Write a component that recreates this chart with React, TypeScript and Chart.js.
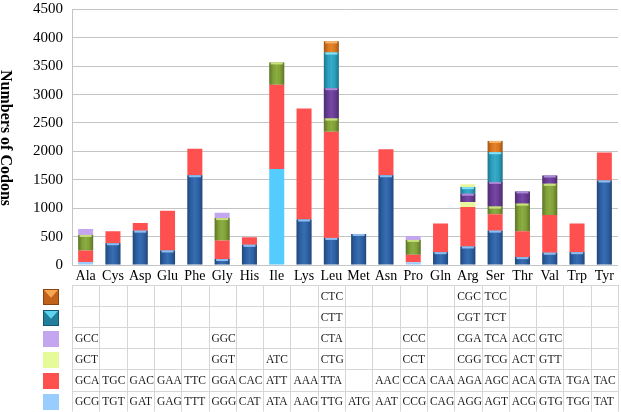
import React, { useEffect, useRef } from "react";
import { Chart, registerables } from "chart.js";

Chart.register(...registerables);

// ---------------- data ----------------
const categories = ["Ala", "Cys", "Asp", "Glu", "Phe", "Gly", "His", "Ile", "Lys", "Leu", "Met", "Asn", "Pro", "Gln", "Arg", "Ser", "Thr", "Val", "Trp", "Tyr"];

// stack order: series 1 at the bottom ... series 6 at the top
const counts1 = [52, 383, 605, 256, 1580, 105, 355, 1690, 801, 477, 547, 1580, 47, 226, 326, 605, 139, 216, 226, 1488];
const counts2 = [204, 209, 134, 697, 465, 325, 133, 1481, 1952, 1870, 0, 458, 134, 506, 697, 290, 453, 662, 506, 493];
const counts3 = [274, 0, 0, 0, 0, 396, 0, 395, 0, 231, 0, 0, 261, 0, 87, 133, 488, 551, 0, 0];
const counts4 = [104, 0, 0, 0, 0, 92, 0, 0, 0, 535, 0, 0, 70, 0, 144, 435, 216, 146, 0, 0];
const counts5 = [0, 0, 0, 0, 0, 0, 0, 0, 0, 627, 0, 0, 0, 0, 117, 523, 0, 0, 0, 0];
const counts6 = [0, 0, 0, 0, 0, 0, 0, 0, 0, 197, 0, 0, 0, 0, 49, 199, 0, 0, 0, 0];

const codons1 = ["GCG", "TGT", "GAT", "GAG", "TTT", "GGG", "CAT", "ATA", "AAG", "TTG", "ATG", "AAT", "CCG", "CAG", "AGG", "AGT", "ACG", "GTG", "TGG", "TAT"];
const codons2 = ["GCA", "TGC", "GAC", "GAA", "TTC", "GGA", "CAC", "ATT", "AAA", "TTA", "", "AAC", "CCA", "CAA", "AGA", "AGC", "ACA", "GTA", "TGA", "TAC"];
const codons3 = ["GCT", "", "", "", "", "GGT", "", "ATC", "", "CTG", "", "", "CCT", "", "CGG", "TCG", "ACT", "GTT", "", ""];
const codons4 = ["GCC", "", "", "", "", "GGC", "", "", "", "CTA", "", "", "CCC", "", "CGA", "TCA", "ACC", "GTC", "", ""];
const codons5 = ["", "", "", "", "", "", "", "", "", "CTT", "", "", "", "", "CGT", "TCT", "", "", "", ""];
const codons6 = ["", "", "", "", "", "", "", "", "", "CTC", "", "", "", "", "CGC", "TCC", "", "", "", ""];

const yAxisTitle = "Numbers of Codons";

// ---------------- styles ----------------
const SERIF = "'Liberation Serif', 'Times New Roman', serif";
const PAL: Record<string, string> = {
  blue: "#2f66ad",
  ltblue: "#99ccff",
  cyan: "#55ccff",
  red: "#ff5050",
  green: "#86a83a",
  yellow: "#e8f79c",
  lav: "#c4a6f0",
  purple: "#6e3f9e",
  teal: "#2ea6c6",
  orange: "#e47c22",
};
const HIGHLIGHT: Record<string, string> = {
  blue: "#8fbdf0",
  green: "#c9e07e",
  purple: "#a98bd6",
  teal: "#86e3f7",
  orange: "#f7b86e",
};
const SHADED = new Set(["blue", "green", "purple", "teal", "orange"]);

const seriesDefault = ["blue", "red", "green", "purple", "teal", "orange"];
const seriesOverride: Record<string, string>[] = [
  { Ala: "ltblue", Ile: "cyan", Pro: "ltblue" },
  {},
  { Arg: "yellow" },
  { Ala: "lav", Gly: "lav", Pro: "lav" },
  {},
  { Arg: "yellow" },
];
const colorKey = (s: number, j: number) => seriesOverride[s][categories[j]] || seriesDefault[s];

const allCounts = [counts1, counts2, counts3, counts4, counts5, counts6];
// table rows, top to bottom
const tableRows = [codons6, codons5, codons4, codons3, codons2, codons1];
const keyColors = ["orange", "teal", "lav", "yellowgreen", "red", "ltblue"];

const barShadePlugin = {
  id: "barShade",
  afterDatasetsDraw(chart: any) {
    const ctx = chart.ctx;
    ctx.save();
    chart.data.datasets.forEach((ds: any, s: number) => {
      const meta = chart.getDatasetMeta(s);
      meta.data.forEach((el: any, j: number) => {
        const v = ds.data[j];
        if (!v) return;
        const key = colorKey(s, j);
        if (!SHADED.has(key)) return;
        const { x, y, base, width } = el.getProps(["x", "y", "base", "width"], true);
        const left = x - width / 2;
        const h = base - y;
        const g = ctx.createLinearGradient(left, 0, left + width, 0);
        g.addColorStop(0, "rgba(0,0,0,0.30)");
        g.addColorStop(0.3, "rgba(0,0,0,0.02)");
        g.addColorStop(0.5, "rgba(255,255,255,0.06)");
        g.addColorStop(0.7, "rgba(0,0,0,0.02)");
        g.addColorStop(1, "rgba(0,0,0,0.30)");
        ctx.fillStyle = g;
        ctx.fillRect(left, y, width, h);
        if (h > 3) {
          ctx.fillStyle = HIGHLIGHT[key];
          ctx.fillRect(left + 1.5, y, width - 3, 2);
        }
      });
    });
    ctx.restore();
  },
};

const tablePlugin = {
  id: "codonTable",
  afterDraw(chart: any) {
    const ctx = chart.ctx;
    const xs = chart.scales.x;
    const left = chart.chartArea.left;
    const right = chart.chartArea.right;
    const top = 285;
    const rowH = 21.1;
    const n = categories.length;
    const colW = (right - left) / n;
    ctx.save();
    ctx.strokeStyle = "#d6d6d6";
    ctx.lineWidth = 1;
    ctx.beginPath();
    for (let r = 0; r <= tableRows.length; r++) {
      const y = Math.round(top + r * rowH) + 0.5;
      ctx.moveTo(left, y);
      ctx.lineTo(right, y);
    }
    for (let j = 0; j <= n; j++) {
      const x = Math.round(left + j * colW) + 0.5;
      ctx.moveTo(x, top);
      ctx.lineTo(x, top + tableRows.length * rowH);
    }
    ctx.stroke();

    ctx.fillStyle = "#1a1a1a";
    ctx.font = `11.5px ${SERIF}`;
    ctx.textAlign = "left";
    ctx.textBaseline = "middle";
    tableRows.forEach((row, r) => {
      row.forEach((txt, j) => {
        if (!txt) return;
        const cx = xs.getPixelForValue(j) - colW / 2;
        ctx.fillText(txt, cx + 3, top + r * rowH + rowH / 2 + 1);
      });
    });

    // legend keys
    const ks = 16;
    keyColors.forEach((k, r) => {
      const kx = 43;
      const ky = Math.round(top + r * rowH + (rowH - ks) / 2) + 1;
      if (k === "orange" || k === "teal") {
        const dark = k === "orange" ? "#c2611a" : "#217f9b";
        const light = k === "orange" ? "#f6a651" : "#5fd3ee";
        ctx.fillStyle = dark;
        ctx.fillRect(kx, ky, ks, ks);
        ctx.fillStyle = light;
        ctx.beginPath();
        ctx.moveTo(kx + 1, ky + 1);
        ctx.lineTo(kx + ks - 1, ky + 1);
        ctx.lineTo(kx + ks / 2, ky + ks * 0.55);
        ctx.closePath();
        ctx.fill();
        ctx.strokeStyle = k === "orange" ? "#8a4310" : "#135a70";
        ctx.strokeRect(kx + 0.5, ky + 0.5, ks - 1, ks - 1);
      } else {
        const col = k === "yellowgreen" ? "#e6fa9a" : PAL[k];
        ctx.fillStyle = col;
        ctx.fillRect(kx, ky, ks, ks);
      }
    });

    // y axis title, rotated clockwise
    ctx.fillStyle = "#000";
    ctx.font = `bold 16px ${SERIF}`;
    ctx.textAlign = "center";
    ctx.textBaseline = "alphabetic";
    ctx.translate(1, 138);
    ctx.rotate(Math.PI / 2);
    ctx.fillText(yAxisTitle, 0, 0);
    ctx.restore();
  },
};

export default function App() {
  const ref = useRef<HTMLCanvasElement>(null);
  useEffect(() => {
    if (!ref.current) return;
    const chart = new Chart(ref.current, {
      type: "bar",
      data: {
        labels: categories,
        datasets: allCounts.map((arr, s) => ({
          label: "S" + (s + 1),
          data: arr,
          backgroundColor: arr.map((_, j) => PAL[colorKey(s, j)]),
          borderWidth: 0,
          barPercentage: 0.55,
          categoryPercentage: 1,
        })),
      },
      options: {
        animation: false,
        responsive: false,
        maintainAspectRatio: false,
        layout: { padding: { top: 4, left: 0, right: 3, bottom: 127 } },
        plugins: { legend: { display: false }, tooltip: { enabled: false } },
        scales: {
          x: {
            stacked: true,
            grid: { display: false, drawTicks: false },
            border: { display: false },
            ticks: { font: { family: SERIF, size: 14 }, color: "#000", padding: 3, maxRotation: 0, autoSkip: false },
            afterFit: (s: any) => {
              s.height = 20;
            },
          },
          y: {
            stacked: true,
            min: 0,
            max: 4500,
            ticks: {
              stepSize: 500,
              font: { family: SERIF, size: 15, lineHeight: 0.05 },
              color: "#000",
              padding: 9,
              callback: (v: any) => String(v),
            },
            grid: { color: "#c4c4c4", drawTicks: false },
            border: { display: true, color: "#c4c4c4" },
            afterFit: (s: any) => {
              s.width = 72;
            },
          },
        },
      },
      plugins: [barShadePlugin, tablePlugin],
    });
    return () => chart.destroy();
  }, []);
  return (
    <div style={{ position: "absolute", left: 0, top: 0, width: 621, height: 412, background: "#fff" }}>
      <canvas ref={ref} width={621} height={412} />
    </div>
  );
}
